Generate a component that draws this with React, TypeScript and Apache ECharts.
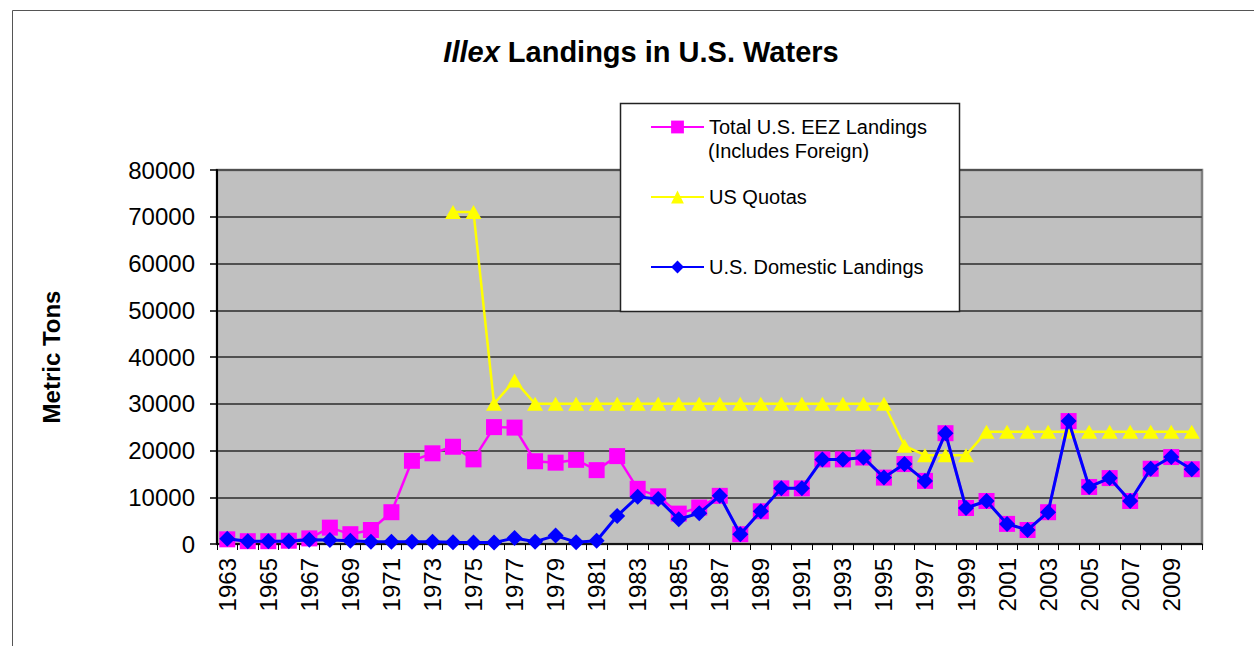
import React, { useEffect, useRef } from "react";
import * as echarts from "echarts";

const years = [
  "1963", "1964", "1965", "1966", "1967", "1968", "1969", "1970", "1971", "1972",
  "1973", "1974", "1975", "1976", "1977", "1978", "1979", "1980", "1981", "1982",
  "1983", "1984", "1985", "1986", "1987", "1988", "1989", "1990", "1991", "1992",
  "1993", "1994", "1995", "1996", "1997", "1998", "1999", "2000", "2001", "2002",
  "2003", "2004", "2005", "2006", "2007", "2008", "2009", "2010",
];

const totalLandings = [
  1000, 600, 600, 700, 1200, 3500, 2100, 3000, 6800, 17800,
  19400, 20800, 18100, 25000, 24900, 17700, 17400, 18000, 15800, 18800,
  11800, 10200, 6500, 7800, 10300, 2100, 7000, 11900, 11900, 18100,
  18100, 18500, 14200, 17100, 13500, 23700, 7700, 9200, 4300, 3000,
  6800, 26300, 12200, 14100, 9200, 16100, 18600, 16000,
];

const usQuotas = [
  null, null, null, null, null, null, null, null, null, null,
  null, 71000, 71000, 30000, 35000, 30000, 30000, 30000, 30000, 30000,
  30000, 30000, 30000, 30000, 30000, 30000, 30000, 30000, 30000, 30000,
  30000, 30000, 30000, 21000, 19000, 19000, 19000, 24000, 24000, 24000,
  24000, 24000, 24000, 24000, 24000, 24000, 24000, 24000,
];

const domesticLandings = [
  1100, 600, 600, 600, 900, 850, 700, 500, 500, 500,
  500, 350, 300, 300, 1300, 500, 1800, 400, 700, 6000,
  10100, 9600, 5300, 6600, 10300, 2100, 7000, 11900, 11900, 18100,
  18100, 18500, 14200, 17100, 13500, 23700, 7700, 9200, 4300, 3000,
  6800, 26300, 12200, 14100, 9200, 16100, 18600, 16000,
];

const yTicks = { min: 0, max: 80000, interval: 10000 };

const FONT = '"Liberation Sans", Arial, Helvetica, sans-serif';
const S_TOTAL = "Total U.S. EEZ Landings";
const S_QUOTA = "US Quotas";
const S_DOM = "U.S. Domestic Landings";

export default function App() {
  const ref = useRef<HTMLDivElement>(null);

  useEffect(() => {
    document.body.style.margin = "0";
    if (!ref.current) return;
    const chart = echarts.init(ref.current, undefined, { renderer: "svg" });

    const legendBase = {
      left: 650,
      padding: 0,
      orient: "horizontal",
      itemWidth: 53,
      itemHeight: 16,
      selectedMode: false,
      z: 10,
      textStyle: { fontSize: 20, fontFamily: FONT, color: "#000", lineHeight: 22 },
    };

    const option: any = {
      animation: false,
      backgroundColor: "#ffffff",
      textStyle: { fontFamily: FONT },
      title: {
        text: "{i|Illex} {b|Landings in U.S. Waters}",
        left: 641,
        top: 37,
        padding: 0,
        textAlign: "center",
        textStyle: {
          fontSize: 29,
          fontWeight: "bold",
          fontFamily: FONT,
          color: "#000",
          rich: {
            i: { fontSize: 29, fontWeight: "bold", fontStyle: "italic", fontFamily: FONT, color: "#000" },
            b: { fontSize: 29, fontWeight: "bold", fontFamily: FONT, color: "#000" },
          },
        },
      },
      legend: [
        { ...legendBase, top: 116, data: [S_TOTAL] },
        { ...legendBase, top: 186, data: [S_QUOTA] },
        { ...legendBase, top: 256, data: [S_DOM] },
      ],
      graphic: [
        {
          type: "rect",
          silent: true,
          z: -10,
          shape: { x: 12.5, y: 10.5, width: 1300, height: 700 },
          style: { fill: "none", stroke: "#555", lineWidth: 1 },
        },
        {
          type: "rect",
          silent: true,
          z: 8,
          shape: { x: 620.5, y: 103.5, width: 339, height: 208 },
          style: { fill: "#fff", stroke: "#222", lineWidth: 1.5 },
        },
        {
          type: "text",
          silent: true,
          z: 10,
          x: 708,
          y: 151,
          style: {
            text: "(Includes Foreign)",
            fontSize: 20,
            fontFamily: FONT,
            fill: "#000",
            verticalAlign: "middle",
            align: "left",
          },
        },
      ],
      grid: {
        left: 217,
        right: 52,
        top: 170,
        bottom: 102,
        show: true,
        backgroundColor: "#C0C0C0",
        borderColor: "#808080",
        borderWidth: 2.5,
        containLabel: false,
      },
      xAxis: {
        type: "category",
        data: years,
        boundaryGap: true,
        axisLine: { show: true, lineStyle: { color: "#000", width: 1.5 } },
        axisTick: { show: true, interval: 0, length: 6, lineStyle: { color: "#000", width: 1 } },
        axisLabel: {
          interval: 1,
          rotate: 90,
          margin: 14,
          fontSize: 24,
          fontFamily: FONT,
          color: "#000",
        },
        splitLine: { show: false },
      },
      yAxis: {
        type: "value",
        min: yTicks.min,
        max: yTicks.max,
        interval: yTicks.interval,
        name: "Metric Tons",
        nameLocation: "middle",
        nameGap: 154,
        nameRotate: 90,
        nameTextStyle: { fontSize: 24, fontWeight: "bold", fontFamily: FONT, color: "#000" },
        axisLine: { show: true, lineStyle: { color: "#000", width: 2 } },
        axisTick: { show: true, length: 7, lineStyle: { color: "#000", width: 1.5 } },
        axisLabel: {
          margin: 22,
          fontSize: 24,
          fontFamily: FONT,
          color: "#000",
          formatter: (v: number) => String(v),
        },
        splitLine: { show: true, lineStyle: { color: "#505050", width: 2 } },
      },
      series: [
        {
          name: S_QUOTA,
          type: "line",
          data: usQuotas,
          z: 2,
          connectNulls: false,
          showAllSymbol: true,
          symbol: "triangle",
          symbolSize: [16, 14],
          itemStyle: { color: "#FFFF00" },
          lineStyle: { color: "#FFFF00", width: 2.5 },
        },
        {
          name: S_TOTAL,
          type: "line",
          data: totalLandings,
          z: 3,
          showAllSymbol: true,
          symbol: "rect",
          symbolSize: 16,
          itemStyle: { color: "#FF00FF" },
          lineStyle: { color: "#FF00FF", width: 2.5 },
        },
        {
          name: S_DOM,
          type: "line",
          data: domesticLandings,
          z: 4,
          showAllSymbol: true,
          symbol: "diamond",
          symbolSize: 16,
          itemStyle: { color: "#0000FF" },
          lineStyle: { color: "#0000FF", width: 3 },
        },
      ],
    };

    chart.setOption(option);
    return () => {
      chart.dispose();
    };
  }, []);

  return <div ref={ref} style={{ width: 1254, height: 646 }} />;
}
